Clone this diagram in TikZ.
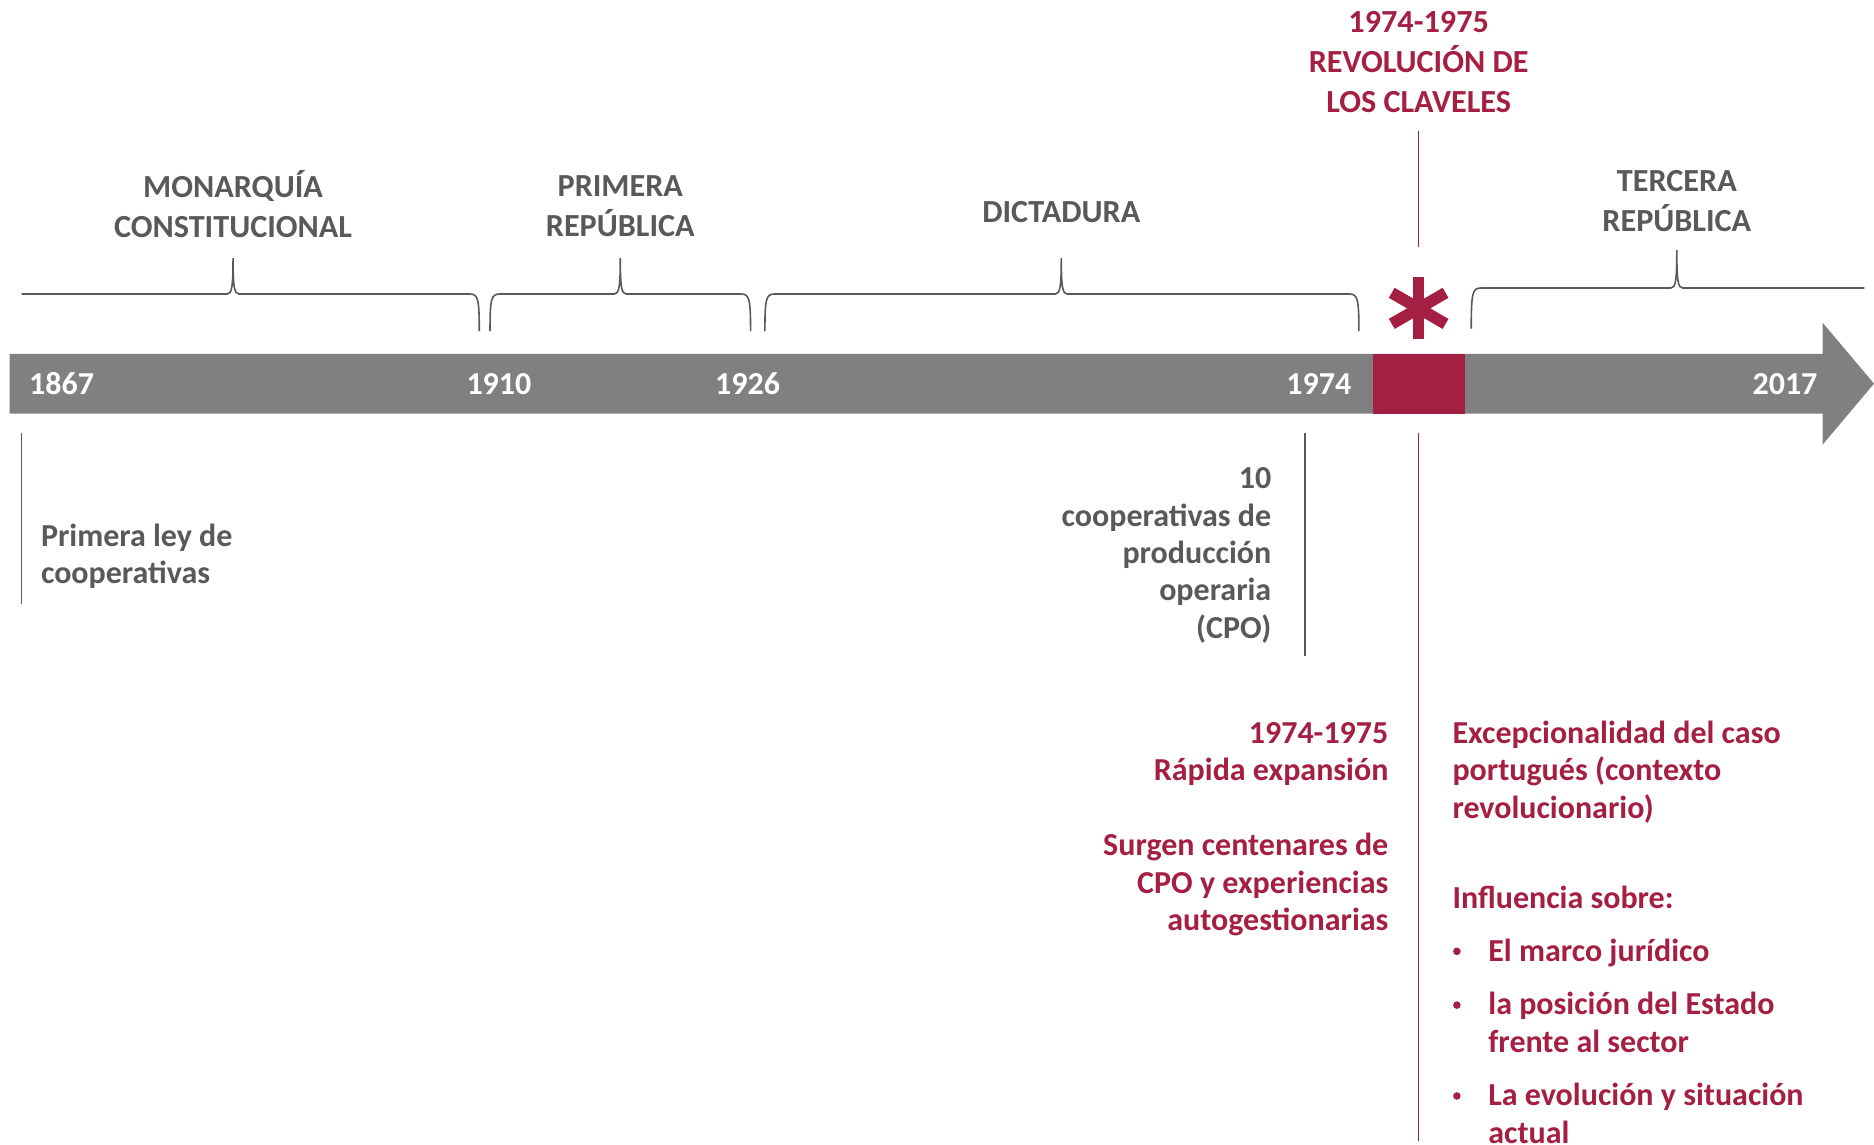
\documentclass[tikz,border=0pt]{standalone}
\usepackage{fontspec}
\setmainfont{Carlito}
\definecolor{barg}{HTML}{808080}
\definecolor{txtg}{HTML}{595959}
\definecolor{crim}{HTML}{A51F42}
\tikzset{
  base/.style={inner sep=0pt, font=\fontsize{16}{18.7}\selectfont\bfseries},
  gtxt/.style={base, text=txtg},
  rtxt/.style={base, text=crim},
  head/.style={base, text=txtg, align=center, font=\fontsize{16.1}{19.7}\selectfont\bfseries},
  rhead/.style={base, text=crim, align=center, font=\fontsize{16.1}{20}\selectfont\bfseries},
  yr/.style={base, text=white, font=\fontsize{16}{18}\selectfont\bfseries},
  bracepath/.style={draw=txtg, line width=0.8pt},
  gline/.style={draw=txtg, line width=0.7pt},
  rline/.style={draw=crim, line width=0.7pt},
  bul/.style={circle, fill=crim, inner sep=0pt, minimum size=3.8pt},
}
\begin{document}
\begin{tikzpicture}[x=0.5976pt,y=-0.5976pt]
\useasboundingbox (0,0) rectangle (1568,958);

% main arrow bar
\fill[barg] (8,296) -- (1525,296) -- (1525,270) -- (1568,321) -- (1525,372) -- (1525,346) -- (8,346) -- cycle;
\fill[crim] (1149,296) rectangle (1226,346);

% year labels
\node[yr, anchor=west] (y1867) at (24,321) {1867};
\node[yr, anchor=west] (y1910) at (390,321) {1910};
\node[yr, anchor=west] (y1926) at (598,321) {1926};
\node[yr, anchor=east] (y1974) at (1131,321) {1974};
\node[yr, anchor=east] (y2017) at (1521,321) {2017};

% braces
\draw[bracepath] (18,246) -- (190,246) .. controls (194,246) and (195,240) .. (195,216)
   .. controls (195,240) and (196,246) .. (200,246) -- (393,246)
   .. controls (400,246) and (401,250) .. (401,277);
\draw[bracepath] (410,277) .. controls (410,250) and (411,246) .. (418,246) -- (514,246)
   .. controls (518,246) and (519,240) .. (519,216) .. controls (519,240) and (520,246) .. (524,246)
   -- (620,246) .. controls (627,246) and (628,250) .. (628,277);
\draw[bracepath] (640,277) .. controls (640,250) and (641,246) .. (648,246) -- (883,246)
   .. controls (887,246) and (888,240) .. (888,216) .. controls (888,240) and (889,246) .. (893,246)
   -- (1129,246) .. controls (1136,246) and (1137,250) .. (1137,277);
\draw[bracepath] (1231,275) .. controls (1231,245) and (1232,241) .. (1239,241) -- (1398,241)
   .. controls (1402,241) and (1403,235) .. (1403,209) .. controls (1403,235) and (1404,241) .. (1408,241)
   -- (1560,241);

% period headings
\node[head, anchor=south] (monarq) at (195,199) {MONARQUÍA\\CONSTITUCIONAL};
\node[head, anchor=south] (prim) at (519,198) {PRIMERA\\REPÚBLICA};
\node[head, anchor=south] (dict) at (888,187) {DICTADURA};
\node[head, anchor=south] (terc) at (1403,194) {TERCERA\\REPÚBLICA};

% revolution title
\node[rhead, anchor=south] (rev) at (1187,95) {1974-1975\\REVOLUCIÓN DE\\LOS CLAVELES};

% asterisk
\coordinate (ast) at (1187,258);
\foreach \a in {90,30,150}{
  \draw[crim, line width=5.8pt] ([shift={(\a:26)}]ast) -- ([shift={(\a+180:26)}]ast);
}

% vertical lines
\coordinate (rtop1) at (1187,110);
\coordinate (rtop2) at (1187,207);
\coordinate (rbot1) at (1187,362);
\coordinate (rbot2) at (1187,955);
\coordinate (g1a) at (18,362);
\coordinate (g1b) at (18,505);
\coordinate (g2a) at (1092,362);
\coordinate (g2b) at (1092,549);
\draw[rline] (rtop1) -- (rtop2);
\draw[rline] (rbot1) -- (rbot2);
\draw[gline] (g1a) -- (g1b);
\draw[gline] (g2a) -- (g2b);

% gray texts
\node[gtxt, anchor=north west, align=left] (ley) at (34,438) {Primera ley de\\cooperativas};
\node[gtxt, anchor=north east, align=right] (cpo) at (1064,391) {10\\cooperativas de\\producción\\operaria\\(CPO)};

% red texts left
\node[rtxt, anchor=north east, align=right] (exp) at (1162,604) {1974-1975\\Rápida expansión};
\node[rtxt, anchor=north east, align=right] (surg) at (1162,697) {Surgen centenares de\\CPO y experiencias\\autogestionarias};

% red texts right
\node[rtxt, anchor=north west, align=left] (exc) at (1215,603) {Excepcionalidad del caso\\portugués (contexto\\revolucionario)};
\node[rtxt, anchor=north west, align=left] (infl) at (1215,741) {Influencia sobre:};
\node[rtxt, anchor=north west, align=left] (b1) at (1245,785) {El marco jurídico};
\node[rtxt, anchor=north west, align=left] (b2) at (1245,830) {la posición del Estado\\frente al sector};
\node[rtxt, anchor=north west, align=left] (b3) at (1245,906) {La evolución y situación\\actual};
\node[bul] (d1) at (1219,796) {};
\node[bul] (d2) at (1219,841) {};
\node[bul] (d3) at (1219,917) {};
\end{tikzpicture}
\end{document}
